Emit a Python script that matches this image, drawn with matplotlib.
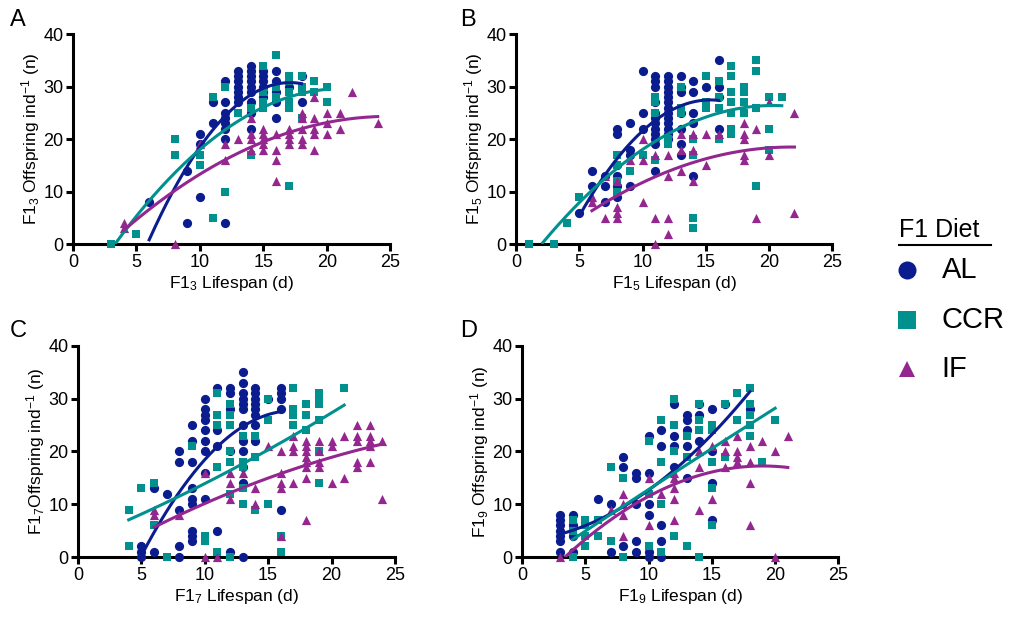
import numpy as np
import matplotlib
matplotlib.use("Agg")
import matplotlib.pyplot as plt

plt.rcParams['font.family'] = ['Liberation Sans', 'DejaVu Sans']
plt.rcParams['mathtext.fontset'] = 'custom'
plt.rcParams['mathtext.rm'] = 'Liberation Sans'
plt.rcParams['mathtext.it'] = 'Liberation Sans'

# offspring counts grouped by lifespan (d): {lifespan: [offspring, ...]}
A_AL = {6: [8], 9: [4, 14], 10: [9, 19, 21], 11: [23, 27],
        12: [4, 20, 22, 23, 24, 25, 27, 31], 13: [27, 28, 29, 30, 31, 32, 33],
        14: [22, 25, 27, 29, 30, 31, 32, 33, 34], 15: [28, 29, 30, 31, 32, 33],
        16: [24, 27, 29, 31, 33], 17: [30], 18: [27, 32]}
A_CCR = {3: [0], 5: [2], 8: [20, 17], 10: [17, 15], 11: [5, 28], 12: [10, 30],
         13: [25], 14: [17, 26], 15: [34, 29, 27, 26], 16: [36, 30, 28],
         17: [11, 26, 27, 29, 31, 32], 18: [24, 29, 30, 32], 19: [29, 31], 20: [30, 27]}
A_IF = {4: [3, 4], 8: [0], 10: [19], 12: [16, 19], 13: [20], 14: [18, 20, 21, 24],
        15: [18, 19, 20, 21, 22], 16: [12, 16, 18, 21], 17: [19, 20, 21, 22],
        18: [19, 20, 22, 24, 25], 19: [18, 21, 22, 24, 28], 20: [21, 23, 25],
        21: [22, 25], 22: [29], 24: [23]}

B_AL = {5: [6], 6: [11, 14], 7: [8, 11, 13], 8: [9, 11, 13, 15, 21, 22],
        9: [11, 17, 18, 23], 10: [22, 25, 33],
        11: [14, 19, 20, 21, 22, 23, 24, 25, 27, 30, 31, 32],
        12: [20, 21, 22, 23, 24, 25, 26, 27, 28, 29, 30, 31, 32],
        13: [17, 19, 22, 25, 29, 30, 32], 14: [13, 23, 25, 29, 31], 15: [30],
        16: [22, 28, 30, 35]}
B_CCR = {1: [0], 3: [0], 4: [4], 5: [9], 8: [10, 12, 15, 17], 9: [14], 10: [17],
         11: [16, 25, 27, 28], 12: [19, 20], 13: [25, 26, 30], 14: [3, 5, 17, 20],
         15: [26, 27, 32], 16: [20, 26, 28, 31], 17: [21, 22, 25, 27, 29, 32, 34],
         18: [25, 27, 29, 30], 19: [11, 26, 33, 35], 20: [18, 22, 28], 21: [28]}
B_IF = {6: [8, 9], 7: [5, 13], 8: [5, 6, 7, 12], 9: [16], 10: [8, 16, 20],
        11: [0, 5, 17], 12: [2, 5, 13, 17], 13: [14, 18, 21], 14: [12, 18, 21],
        15: [15, 21], 16: [21], 18: [16, 17, 20, 21, 23], 19: [5, 22],
        20: [17, 27], 22: [6, 25]}

C_AL = {5: [0, 1, 2], 6: [1, 13], 7: [12], 8: [0, 2, 9, 18, 20],
        9: [3, 4, 5, 10, 11, 13, 18, 22, 25], 10: [11, 16, 20, 22, 24, 26, 27, 28, 30],
        11: [5, 21, 24, 32], 12: [1, 20, 28, 31, 32],
        13: [0, 14, 17, 20, 22, 25, 28, 29, 30, 31, 33, 35],
        14: [22, 25, 27, 28, 29, 30, 31, 32], 15: [30], 16: [9, 28, 30, 31, 32]}
C_CCR = {4: [2, 9], 5: [13], 6: [6, 14], 7: [0], 9: [21], 10: [3, 4],
         11: [1, 17, 25, 27, 31], 12: [0, 12, 18, 20, 25, 27, 29],
         13: [10, 13, 17, 18, 23], 14: [9, 19, 23], 15: [10, 26, 30], 16: [1, 4],
         17: [25, 27, 28, 32], 18: [24, 27, 29], 19: [14, 20, 26, 29, 30, 31], 21: [32]}
C_IF = {6: [8, 9], 8: [8], 10: [0, 16], 11: [0], 12: [11, 14, 16], 13: [16],
        14: [10, 13], 15: [21], 16: [4, 13, 14, 16, 20], 17: [14, 20, 21, 23],
        18: [7, 15, 17, 18, 19, 20, 21, 22], 19: [17, 18, 20, 22], 20: [14, 21, 22],
        21: [15, 23], 22: [17, 18, 22, 23, 25], 23: [18, 21, 22, 23, 25], 24: [11, 22]}

D_AL = {3: [1, 3, 4, 5, 6, 7, 8], 4: [1, 4, 6, 8], 6: [11], 7: [1, 10],
        8: [2, 17, 19], 9: [1, 3, 10, 15, 16], 10: [0, 1, 8, 10, 16, 23],
        11: [0, 3, 6, 21, 24], 12: [17, 21, 23, 29], 13: [15, 21, 24, 26, 27],
        14: [22, 27, 29], 15: [7, 14, 20, 28], 16: [29], 18: [28]}
D_CCR = {4: [0, 5, 7], 5: [2, 4, 6, 7], 6: [4, 7], 7: [3, 17], 8: [0, 15],
         10: [2, 12, 22], 11: [1, 10, 18, 26], 12: [4, 20, 25, 30], 13: [2, 19, 23],
         14: [0, 24, 26, 29], 15: [6, 13, 18, 24, 25], 16: [19, 29], 17: [26, 31],
         18: [23, 25, 27, 29, 32], 19: [18], 20: [26]}
D_IF = {3: [0], 7: [9], 8: [4, 8, 10, 12], 10: [6, 15], 11: [12],
        12: [7, 11, 13, 15, 16], 14: [9, 17, 20], 15: [11, 21], 16: [17, 20, 22],
        17: [18, 19, 20, 23], 18: [6, 14, 18, 21], 19: [22], 20: [0, 20], 21: [23]}

panels = [("A", "3", [A_AL, A_CCR, A_IF]),
          ("B", "5", [B_AL, B_CCR, B_IF]),
          ("C", "7", [C_AL, C_CCR, C_IF]),
          ("D", "9", [D_AL, D_CCR, D_IF])]
diets = ["AL", "CCR", "IF"]
colors = ["#0b1c8f", "#00918e", "#93268f"]
markers = ["o", "s", "^"]
msize = [44, 40, 44]

boxes = [[0.0717, 0.607, 0.3118, 0.338],
         [0.5069, 0.607, 0.3108, 0.338],
         [0.0766, 0.103, 0.3113, 0.340],
         [0.5128, 0.103, 0.3108, 0.340]]
letter_pos = [(0.010, 0.985), (0.452, 0.985), (0.010, 0.485), (0.452, 0.485)]

fig = plt.figure(figsize=(10.18, 6.21), dpi=100)

for (letter, gen, groups), box, lp in zip(panels, boxes, letter_pos):
    ax = fig.add_axes(box)
    for g, c, m, s in zip(groups, colors, markers, msize):
        xs = np.array([k for k, v in g.items() for _ in v], dtype=float)
        ys = np.array([y for v in g.values() for y in v], dtype=float)
        ax.scatter(xs, ys, s=s, c=c, marker=m, linewidths=0, zorder=3, clip_on=False)
        # second order polynomial fit over the data range
        p = np.polyfit(xs, ys, 2)
        xf = np.linspace(xs.min(), xs.max(), 200)
        yf = np.polyval(p, xf)
        keep = yf >= 0
        ax.plot(xf[keep], yf[keep], color=c, lw=2.2, zorder=4)
    ax.set_xlim(0, 25)
    ax.set_ylim(0, 40)
    ax.set_xticks([0, 5, 10, 15, 20, 25])
    ax.set_yticks([0, 10, 20, 30, 40])
    for sp in ["top", "right"]:
        ax.spines[sp].set_visible(False)
    for sp in ["left", "bottom"]:
        ax.spines[sp].set_linewidth(2.2)
    ax.tick_params(width=2.2, length=5, labelsize=13, pad=2)
    ax.set_xlabel("F1$_{%s}$ Lifespan (d)" % gen, fontsize=12.5, labelpad=2)
    sep = "" if letter == "C" else " "
    ax.set_ylabel("F1$_{%s}$%sOffspring ind$^{-1}$ (n)" % (gen, sep), fontsize=12.5, labelpad=1)
    fig.text(lp[0], lp[1], letter, fontsize=17, va="top", ha="left")

# legend
fig.text(0.883, 0.630, "F1 Diet", fontsize=18, ha="left", va="center")
fig.add_artist(plt.Line2D([0.883, 0.973], [0.605, 0.605], color="black", lw=1.5))
for i, (d, c, m) in enumerate(zip(diets, colors, markers)):
    yy = 0.565 - i * 0.080
    fig.add_artist(plt.Line2D([0.891], [yy], marker=m, color=c, markersize=13 if m != "^" else 12,
                              markeredgewidth=0, linestyle="none"))
    fig.text(0.925, yy, d, fontsize=21, ha="left", va="center")

fig.savefig("out.png", dpi=100)
